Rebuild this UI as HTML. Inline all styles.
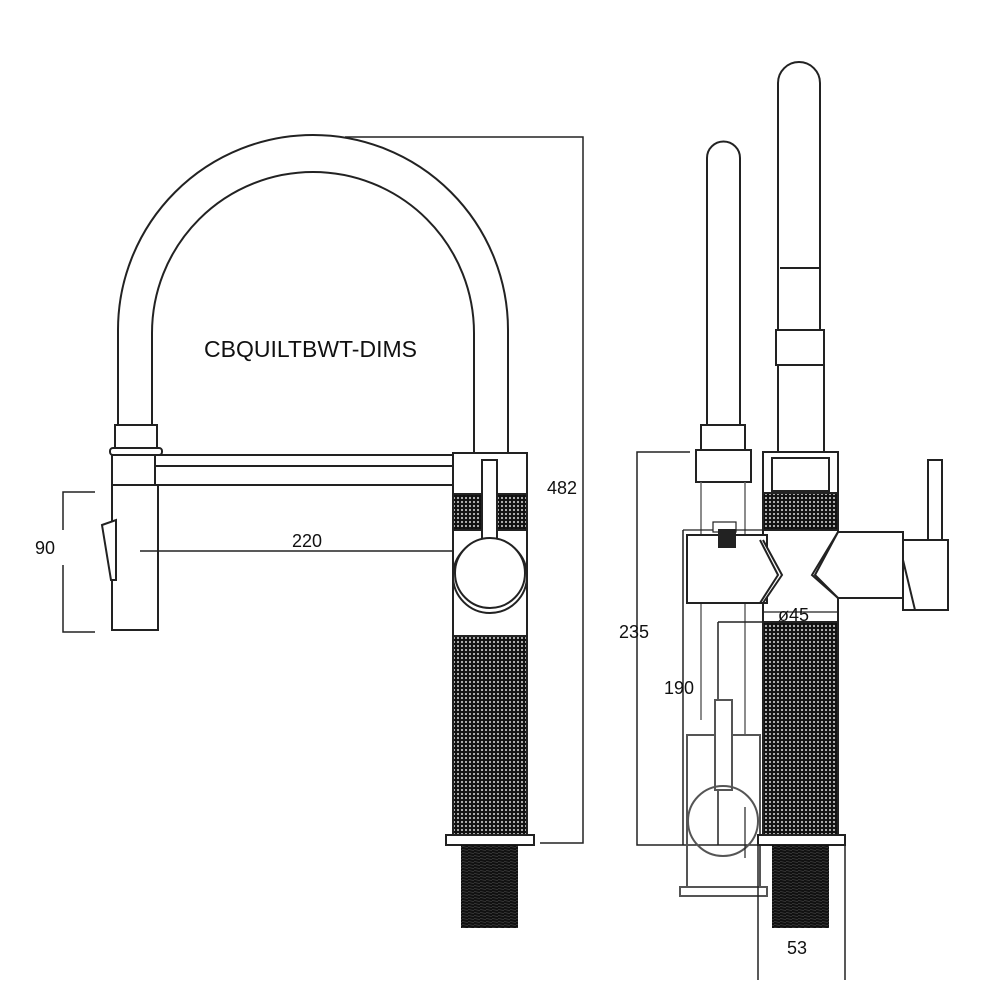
<!DOCTYPE html>
<html><head><meta charset="utf-8"><style>html,body{margin:0;padding:0;background:#fff}svg{display:block}</style></head><body>
<svg width="1000" height="1000" viewBox="0 0 1000 1000" xmlns="http://www.w3.org/2000/svg" font-family="Liberation Sans, sans-serif">
<defs>
<pattern id="k" width="4" height="4" patternUnits="userSpaceOnUse"><rect width="4" height="4" fill="#111"/><circle cx="2" cy="2" r="1.1" fill="#bbb"/></pattern>
<pattern id="t" width="6" height="3" patternUnits="userSpaceOnUse"><rect width="6" height="3" fill="#111"/><line x1="0" y1="0.5" x2="6" y2="1.5" stroke="#555" stroke-width="0.6"/></pattern>
</defs>
<g fill="none" stroke="#222" stroke-width="2">
<path d="M118 425 V330 A195 195 0 0 1 508 330 V453"/>
<path d="M152 425 V333 A161 161 0 0 1 474 333 V453"/>
<rect x="115" y="425" width="42" height="23" fill="#fff"/>
<rect x="110" y="448" width="52" height="7" rx="3" fill="#fff"/>
<rect x="112" y="455" width="341" height="30" fill="#fff"/>
<line x1="155" y1="466" x2="453" y2="466"/>
<line x1="155" y1="455" x2="155" y2="485"/>
<rect x="112" y="485" width="46" height="145" fill="#fff"/>
<path d="M102 525 L116 520 L116 580 L111 580 Z" fill="#fff"/>
<path d="M95 492 H63 V530 M63 565 V632 H95" stroke-width="1.5"/>
<line x1="140" y1="551" x2="490" y2="551" stroke-width="1.5"/>
<rect x="453" y="453" width="74" height="382" fill="#fff"/>
<rect x="453" y="494" width="74" height="36" fill="url(#k)"/>
<rect x="453" y="636" width="74" height="199" fill="url(#k)"/>
<rect x="482" y="460" width="15" height="80" fill="#fff"/>
<circle cx="490" cy="576" r="37"/>
<circle cx="490" cy="573" r="35" fill="#fff"/>
<rect x="446" y="835" width="88" height="10" fill="#fff"/>
<rect x="461" y="845" width="57" height="83" fill="url(#t)" stroke="none"/>
<path d="M345 137 H583 V843 H540" stroke-width="1.5"/>
</g>
<g font-size="18" fill="#111">
<text x="35" y="554">90</text>
<text x="292" y="547">220</text>
<text x="547" y="494">482</text>
<text x="204" y="357" font-size="23">CBQUILTBWT-DIMS</text>
</g>
<g fill="none" stroke="#222" stroke-width="2">
<path d="M707 425 V158 A16.5 16.5 0 0 1 740 158 V425"/>
<rect x="701" y="425" width="44" height="25" fill="#fff"/>
<rect x="696" y="450" width="55" height="32" fill="#fff"/>
<path d="M701 482 V720 M745 482 V735" stroke="#666" stroke-width="1.5"/>
<path d="M778 330 V83 A21 21 0 0 1 820 83 V330"/>
<line x1="780" y1="268" x2="820" y2="268"/>
<rect x="776" y="330" width="48" height="35" fill="#fff"/>
<path d="M778 365 V455 M824 365 V455"/>
<rect x="763" y="452" width="75" height="383" fill="#fff"/>
<rect x="772" y="458" width="57" height="33" fill="#fff"/>
<rect x="763" y="493" width="75" height="37" fill="url(#k)"/>
<rect x="763" y="622" width="75" height="213" fill="url(#k)"/>
<line x1="763" y1="612" x2="838" y2="612" stroke-width="1.2"/>
<rect x="687" y="535" width="80" height="68" fill="#fff"/>
<path d="M763 540 L782 575 L763 603" fill="#fff"/>
<path d="M760 540 L778 575 L760 603"/>
<path d="M683 530 H763" stroke-width="1.2"/>
<rect x="713" y="522" width="23" height="10" fill="#fff" stroke-width="1.2"/>
<rect x="719" y="530" width="16" height="17" fill="#222"/>
<path d="M838 532 H903 V598 H838 L815 575 Z" fill="#fff"/>
<path d="M838 532 L812 575 L838 598"/>
<rect x="928" y="460" width="14" height="82" fill="#fff"/>
<rect x="903" y="540" width="45" height="70" fill="#fff"/>
<path d="M903 560 L915 610"/>
<path d="M690 452 H637 V845 H760" stroke-width="1.5"/>
<path d="M683 530 V845" stroke-width="1.5"/>
<path d="M718 622 H763 M718 622 V845" stroke-width="1.5"/>
<rect x="687" y="735" width="73" height="152" fill="none" stroke="#555"/>
<rect x="680" y="887" width="87" height="9" fill="#fff" stroke="#555"/>
<rect x="715" y="700" width="17" height="90" fill="#fff" stroke="#555"/>
<circle cx="723" cy="821" r="35" fill="none" stroke="#555"/>
<line x1="745" y1="807" x2="745" y2="858" stroke-width="1.2"/>
<rect x="758" y="835" width="87" height="10" fill="#fff"/>
<rect x="772" y="845" width="57" height="83" fill="url(#t)" stroke="none"/>
<path d="M758 845 V980 M845 845 V980" stroke-width="1.5"/>
</g>
<g font-size="18" fill="#111">
<text x="778" y="621">ø45</text>
<text x="619" y="638">235</text>
<text x="664" y="694">190</text>
<text x="787" y="954">53</text>
</g>
</svg>
</body></html>
